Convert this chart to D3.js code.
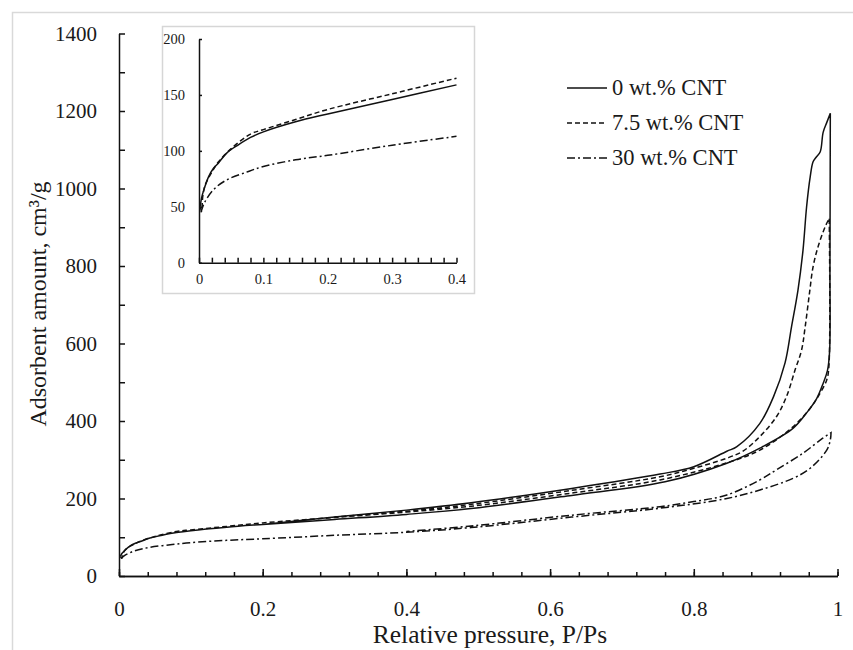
<!DOCTYPE html>
<html>
<head>
<meta charset="utf-8">
<script src="https://cdn.jsdelivr.net/npm/d3@7"></script>
<style>
  html, body { margin: 0; padding: 0; background: #fff; }
  svg text { font-family: "Liberation Serif", "DejaVu Serif", serif; fill: #1a1a1a; }
</style>
</head>
<body>
<div id="chart"></div>
<script>
"use strict";

// 0 wt.% CNT, adsorption then desorption (relative pressure / amount cm3/g)
var cnt0AdsP = [0.002, 0.004, 0.008, 0.015, 0.022, 0.03, 0.043, 0.06, 0.08, 0.1, 0.15, 0.2, 0.3, 0.4, 0.49, 0.63, 0.76, 0.846, 0.892, 0.938, 0.957, 0.971, 0.98, 0.986, 0.989, 0.9895, 0.99];
var cnt0AdsV = [50, 58, 66, 77, 84, 89, 98, 105, 112, 117, 126, 133, 146, 159, 174, 208, 243, 291, 330, 381, 421, 458, 497, 530, 580, 800, 1194];
var cnt0DesP = [0.99, 0.985, 0.98, 0.976, 0.97, 0.966, 0.962, 0.957, 0.952, 0.945, 0.936, 0.927, 0.911, 0.892, 0.86, 0.846, 0.8, 0.753, 0.63, 0.49, 0.4, 0.3, 0.2];
var cnt0DesV = [1194, 1170, 1145, 1095, 1080, 1069, 1030, 953, 841, 738, 643, 550, 463, 394, 334, 322, 282, 263, 226, 189, 170, 152, 133];

// 7.5 wt.% CNT
var cnt75AdsP = [0.002, 0.004, 0.006, 0.01, 0.02, 0.03, 0.05, 0.08, 0.1, 0.15, 0.2, 0.3, 0.4, 0.49, 0.63, 0.753, 0.846, 0.892, 0.938, 0.962, 0.973, 0.985, 0.988, 0.9885];
var cnt75AdsV = [50, 46, 60, 70, 81, 90, 102, 115, 119, 128, 137, 151, 165, 180, 214, 248, 292, 325, 385, 433, 463, 506, 540, 923];
var cnt75DesP = [0.9885, 0.983, 0.973, 0.966, 0.961, 0.955, 0.95, 0.941, 0.929, 0.915, 0.892, 0.869, 0.846, 0.8, 0.753, 0.63, 0.49, 0.4, 0.3];
var cnt75DesV = [923, 902, 850, 798, 730, 643, 583, 532, 463, 411, 360, 323, 304, 278, 256, 221, 185, 167, 152];

// 30 wt.% CNT
var cnt30AdsP = [0.003, 0.008, 0.022, 0.043, 0.074, 0.1, 0.15, 0.2, 0.3, 0.4, 0.49, 0.63, 0.753, 0.846, 0.892, 0.938, 0.962, 0.985, 0.99, 0.991];
var cnt30AdsV = [45, 53, 65, 74, 81, 86, 92, 96, 105, 113, 125, 152, 175, 200, 222, 252, 278, 325, 351, 370];
var cnt30DesP = [0.991, 0.979, 0.952, 0.915, 0.892, 0.846, 0.8, 0.753, 0.63, 0.49, 0.4];
var cnt30DesV = [370, 355, 317, 274, 248, 209, 192, 179, 157, 129, 115];

var seriesNames = ["0 wt.% CNT", "7.5 wt.% CNT", "30 wt.% CNT"];

// tick values
var xTicks = [0, 0.2, 0.4, 0.6, 0.8, 1];
var yTicks = [0, 200, 400, 600, 800, 1000, 1200, 1400];
var insetXTicks = [0, 0.1, 0.2, 0.3, 0.4];
var insetYTicks = [0, 50, 100, 150, 200];

var W = 853, H = 650;
var FONT = '"Liberation Serif", "DejaVu Serif", serif';
var dashes = ["none", "5,3", "8,3,2,3"];

function zipPoints(ps, vs) {
  return ps.map(function(p, i) { return { p: p, v: vs[i] }; });
}

var series = [
  { name: seriesNames[0], ads: zipPoints(cnt0AdsP, cnt0AdsV), des: zipPoints(cnt0DesP, cnt0DesV), dash: dashes[0] },
  { name: seriesNames[1], ads: zipPoints(cnt75AdsP, cnt75AdsV), des: zipPoints(cnt75DesP, cnt75DesV), dash: dashes[1] },
  { name: seriesNames[2], ads: zipPoints(cnt30AdsP, cnt30AdsV), des: zipPoints(cnt30DesP, cnt30DesV), dash: dashes[2] }
];

var svg = d3.select("#chart").append("svg").attr("width", W).attr("height", H)
  .attr("font-family", FONT);

// chart area border (runs off the picture)
svg.append("rect").attr("x", 12.5).attr("y", 12.5).attr("width", 900).attr("height", 700)
  .attr("fill", "#fff").attr("stroke", "#d9d9d9").attr("stroke-width", 1.5);

var x = d3.scaleLinear().domain([0, 1]).range([119, 837.5]);
var y = d3.scaleLinear().domain([0, 1400]).range([576, 33.5]);

var line = d3.line()
  .x(function(d) { return x(d.p); })
  .y(function(d) { return y(d.v); })
  .curve(d3.curveCatmullRom.alpha(0.5));

// loops: adsorption branch followed by desorption branch
svg.append("g").selectAll("path").data(series).enter().append("path")
  .attr("d", function(s) { return line(s.ads.concat(s.des)); })
  .attr("fill", "none").attr("stroke", "#111").attr("stroke-width", 1.5)
  .attr("stroke-dasharray", function(s) { return s.dash; });

// main axes, ticks pointing inside
var fmt = d3.format("~g");
var xMinor = svg.append("g").attr("transform", "translate(0,576)")
  .call(d3.axisBottom(x).tickValues(d3.range(0, 1.001, 0.04)).tickSizeInner(-4).tickSizeOuter(0).tickFormat(""));
var xMajor = svg.append("g").attr("transform", "translate(0,576)")
  .call(d3.axisBottom(x).tickValues(xTicks).tickSizeInner(-7).tickSizeOuter(0).tickPadding(25).tickFormat(fmt));
var yMain = svg.append("g").attr("transform", "translate(119,0)")
  .call(d3.axisLeft(y).tickValues(d3.range(0, 1401, 100)).tickSizeInner(-6).tickSizeOuter(0).tickPadding(22)
    .tickFormat(function(d) { return yTicks.indexOf(d) >= 0 ? d3.format("d")(d) : ""; }));

[xMinor, xMajor, yMain].forEach(function(g) {
  g.attr("font-family", FONT);
  g.selectAll("path, line").attr("stroke", "#111").attr("stroke-width", 1.5);
  g.selectAll("text").attr("font-size", 21).attr("fill", "#1a1a1a");
});

svg.append("text").attr("x", 490).attr("y", 643).attr("text-anchor", "middle")
  .attr("font-size", 25.5).text("Relative pressure, P/Ps");
svg.append("text").attr("transform", "translate(46,304) rotate(-90)").attr("text-anchor", "middle")
  .attr("font-size", 24).text("Adsorbent amount, cm³/g");

// legend
var legend = svg.append("g").selectAll("g").data(series).enter().append("g")
  .attr("transform", function(s, i) { return "translate(567," + (88 + i * 35) + ")"; });
legend.append("line").attr("x1", 0).attr("x2", 40).attr("y1", 0).attr("y2", 0)
  .attr("stroke", "#111").attr("stroke-width", 1.5)
  .attr("stroke-dasharray", function(s) { return s.dash; });
legend.append("text").attr("x", 45).attr("y", 7).attr("font-size", 22.5)
  .text(function(s) { return s.name; });

// inset: low pressure region
var inset = svg.append("g");
inset.append("rect").attr("x", 162.5).attr("y", 26.5).attr("width", 312).attr("height", 267)
  .attr("fill", "#fff").attr("stroke", "#d6d6d6").attr("stroke-width", 1.5);

var ix = d3.scaleLinear().domain([0, 0.4]).range([199, 456.5]);
var iy = d3.scaleLinear().domain([0, 200]).range([262.7, 39]);

var insetLine = d3.line()
  .x(function(d) { return ix(d.p); })
  .y(function(d) { return iy(d.v); })
  .curve(d3.curveCatmullRom.alpha(0.5));

inset.append("g").selectAll("path").data(series).enter().append("path")
  .attr("d", function(s) { return insetLine(s.ads.filter(function(d) { return d.p <= 0.4; })); })
  .attr("fill", "none").attr("stroke", "#111").attr("stroke-width", 1.5)
  .attr("stroke-dasharray", function(s) { return s.dash; });

var ixAxis = inset.append("g").attr("transform", "translate(0,262.7)")
  .call(d3.axisBottom(ix).tickValues(d3.range(0, 0.401, 0.02)).tickSizeInner(-5).tickSizeOuter(0).tickPadding(11)
    .tickFormat(function(d) {
      var hit = insetXTicks.filter(function(t) { return Math.abs(t - d) < 1e-6; });
      return hit.length ? fmt(hit[0]) : "";
    }));
var iyAxis = inset.append("g").attr("transform", "translate(199,0)")
  .call(d3.axisLeft(iy).tickValues(insetYTicks).tickSizeInner(-3).tickSizeOuter(0).tickPadding(14).tickFormat(fmt));

[ixAxis, iyAxis].forEach(function(g) {
  g.attr("font-family", FONT);
  g.selectAll("path, line").attr("stroke", "#111").attr("stroke-width", 1.5);
  g.selectAll("text").attr("font-size", 14.5).attr("fill", "#333");
});
</script>
</body>
</html>
